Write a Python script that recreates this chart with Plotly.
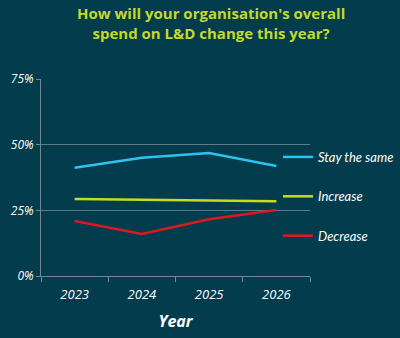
import plotly.graph_objects as go

years = ["2023", "2024", "2025", "2026"]
stay_same = [41.2, 45.0, 46.8, 41.9]
increase = [29.3, 29.0, 28.8, 28.5]
decrease = [20.9, 16.0, 21.6, 25.1]
series_names = ["Stay the same", "Increase", "Decrease"]
y_ticks = [0, 25, 50, 75]
y_tick_labels = ["0%", "25%", "50%", "75%"]

BG = "#033c4c"
colors = ["#2ec3ee", "#c6dc1e", "#dc1820"]
FONT = "Open Sans"

fig = go.Figure()
for i, (name, vals) in enumerate(zip(series_names, [stay_same, increase, decrease])):
    fig.add_trace(go.Scatter(
        x=years, y=vals, mode="lines", name=name,
        line=dict(color=colors[i], width=2.5),
        legendgroup=name,
    ))

fig.add_annotation(
    text="How will your organisation's overall<br>spend on L&D change this year?",
    xref="paper", yref="paper", x=0.632, y=1.395, xanchor="center", yanchor="top",
    showarrow=False, align="center",
    font=dict(family=FONT, size=15, color="#c3d92e", weight="bold"),
)

fig.update_layout(
    width=400, height=338,
    paper_bgcolor=BG, plot_bgcolor=BG,
    margin=dict(l=41, r=90, t=79, b=62, autoexpand=False),
    showlegend=True,
    legend=dict(
        xref="container", yref="container",
        x=0.695, xanchor="left", y=0.58, yanchor="top",
        font=dict(family="Lato", size=13, color="#ffffff", style="italic"),
        bgcolor="rgba(0,0,0,0)",
        tracegroupgap=19.5,
        itemwidth=30,
    ),
    xaxis=dict(
        type="category", range=[-0.5, 3.5],
        showgrid=False, showline=True, linecolor="#6f8a94", linewidth=1,
        ticks="outside", tickson="boundaries", ticklen=5, tickcolor="#6f8a94",
        ticklabelstandoff=6,
        tickfont=dict(family=FONT, size=13, color="#ffffff", style="italic"),
        title=dict(text="<b>Year</b>", standoff=14,
                   font=dict(family=FONT, size=16, color="#ffffff", style="italic")),
        zeroline=False,
    ),
    yaxis=dict(
        range=[0, 75], tickvals=y_ticks, ticktext=y_tick_labels,
        showgrid=True, gridcolor="#5f7c86", gridwidth=1,
        showline=True, linecolor="#6f8a94", linewidth=1,
        ticks="outside", ticklen=4, tickcolor="#6f8a94",
        tickfont=dict(family=FONT, size=12, color="#ffffff", style="italic"),
        zeroline=False,
    ),
)

fig.write_html("out.html")
